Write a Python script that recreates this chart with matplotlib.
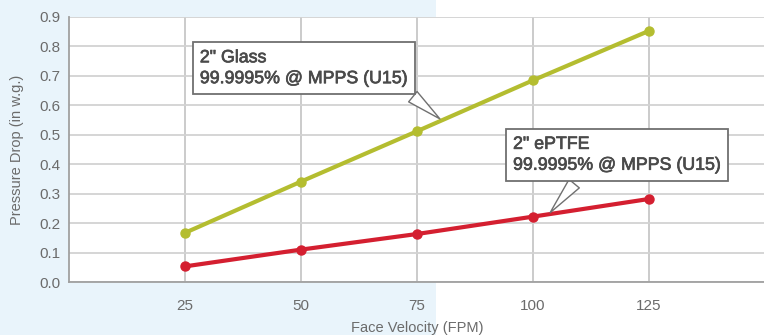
import matplotlib
matplotlib.use("Agg")
import matplotlib.pyplot as plt
import matplotlib.patheffects as pe
from matplotlib.patches import Rectangle

# data
velocity = [25, 50, 75, 100, 125]
glass_drop = [0.167, 0.341, 0.512, 0.685, 0.853]
eptfe_drop = [0.053, 0.110, 0.163, 0.222, 0.282]
y_ticks = [0.0, 0.1, 0.2, 0.3, 0.4, 0.5, 0.6, 0.7, 0.8, 0.9]
glass_label = '2" Glass\n99.9995% @ MPPS (U15)'
eptfe_label = '2" ePTFE\n99.9995% @ MPPS (U15)'

tick_font = 'Liberation Sans'
box_font = 'Liberation Sans'

glass_col = '#b4bd30'
eptfe_col = '#d41f30'
text_col = '#6b6b6b'

fig = plt.figure(figsize=(7.64, 3.35), dpi=100)
fig.patches.append(Rectangle((0, 0), 436 / 764, 1, transform=fig.transFigure,
                             facecolor='#e9f4fb', edgecolor='none', zorder=-10))

ax = fig.add_axes([69 / 764, 53 / 335, 696 / 764, 265 / 335])
ax.set_facecolor('white')
ax.set_xlim(0, 150)
ax.set_ylim(0, 0.9)

ax.set_xticks(velocity)
ax.set_xticklabels([str(v) for v in velocity])
ax.set_yticks(y_ticks)
ax.set_yticklabels([f'{v:.1f}' for v in y_ticks])
ax.tick_params(length=0, colors=text_col, labelsize=11)
ax.tick_params(axis='x', pad=12)
ax.tick_params(axis='y', pad=6)
for lab in ax.get_xticklabels() + ax.get_yticklabels():
    lab.set_fontfamily(tick_font)

ax.yaxis.grid(True, color='#d2d2d2', linewidth=1.3)
ax.xaxis.grid(True, color='#bdbdbd', linewidth=1.1)
ax.set_axisbelow(True)
for s in ['top', 'right']:
    ax.spines[s].set_visible(False)
ax.spines['left'].set_color('#a0a0a0')
ax.spines['bottom'].set_color('#a0a0a0')
ax.spines['left'].set_linewidth(1.3)
ax.spines['bottom'].set_linewidth(1.3)

ax.plot(velocity, glass_drop, color=glass_col, lw=3, marker='o', ms=6.5, zorder=3)
ax.plot(velocity, eptfe_drop, color=eptfe_col, lw=3, marker='o', ms=6.5, zorder=3)

ax.set_xlabel('Face Velocity (FPM)', fontsize=10.5, color=text_col,
              fontfamily=tick_font, labelpad=6)
ax.set_ylabel('Pressure Drop (in w.g.)', fontsize=10.5, color=text_col,
              fontfamily=tick_font, labelpad=11)

box = dict(boxstyle='square,pad=0.4', fc='white', ec='#707070', lw=1.3)
arrow = dict(arrowstyle='wedge,tail_width=0.75,shrink_factor=0.5', fc='white',
             ec='#707070', lw=1.0)
thick = [pe.withStroke(linewidth=0.5, foreground='#4a4a4a')]

for label, tip, pos, rel in [(glass_label, (80.4, 0.548), (28.2, 0.726), 0.97),
                             (eptfe_label, (103.3, 0.228), (95.7, 0.432), 0.334)]:
    t = ax.annotate(label, xy=tip, xytext=pos, textcoords='data',
                    fontsize=12.8, color='#4a4a4a', fontfamily=box_font,
                    va='center', ha='left', linespacing=1.3, bbox=box,
                    arrowprops=dict(arrow, relpos=(rel, 0.0)), zorder=4)
    t.set_path_effects(thick)

fig.savefig('out.png', dpi=100, facecolor='white')
